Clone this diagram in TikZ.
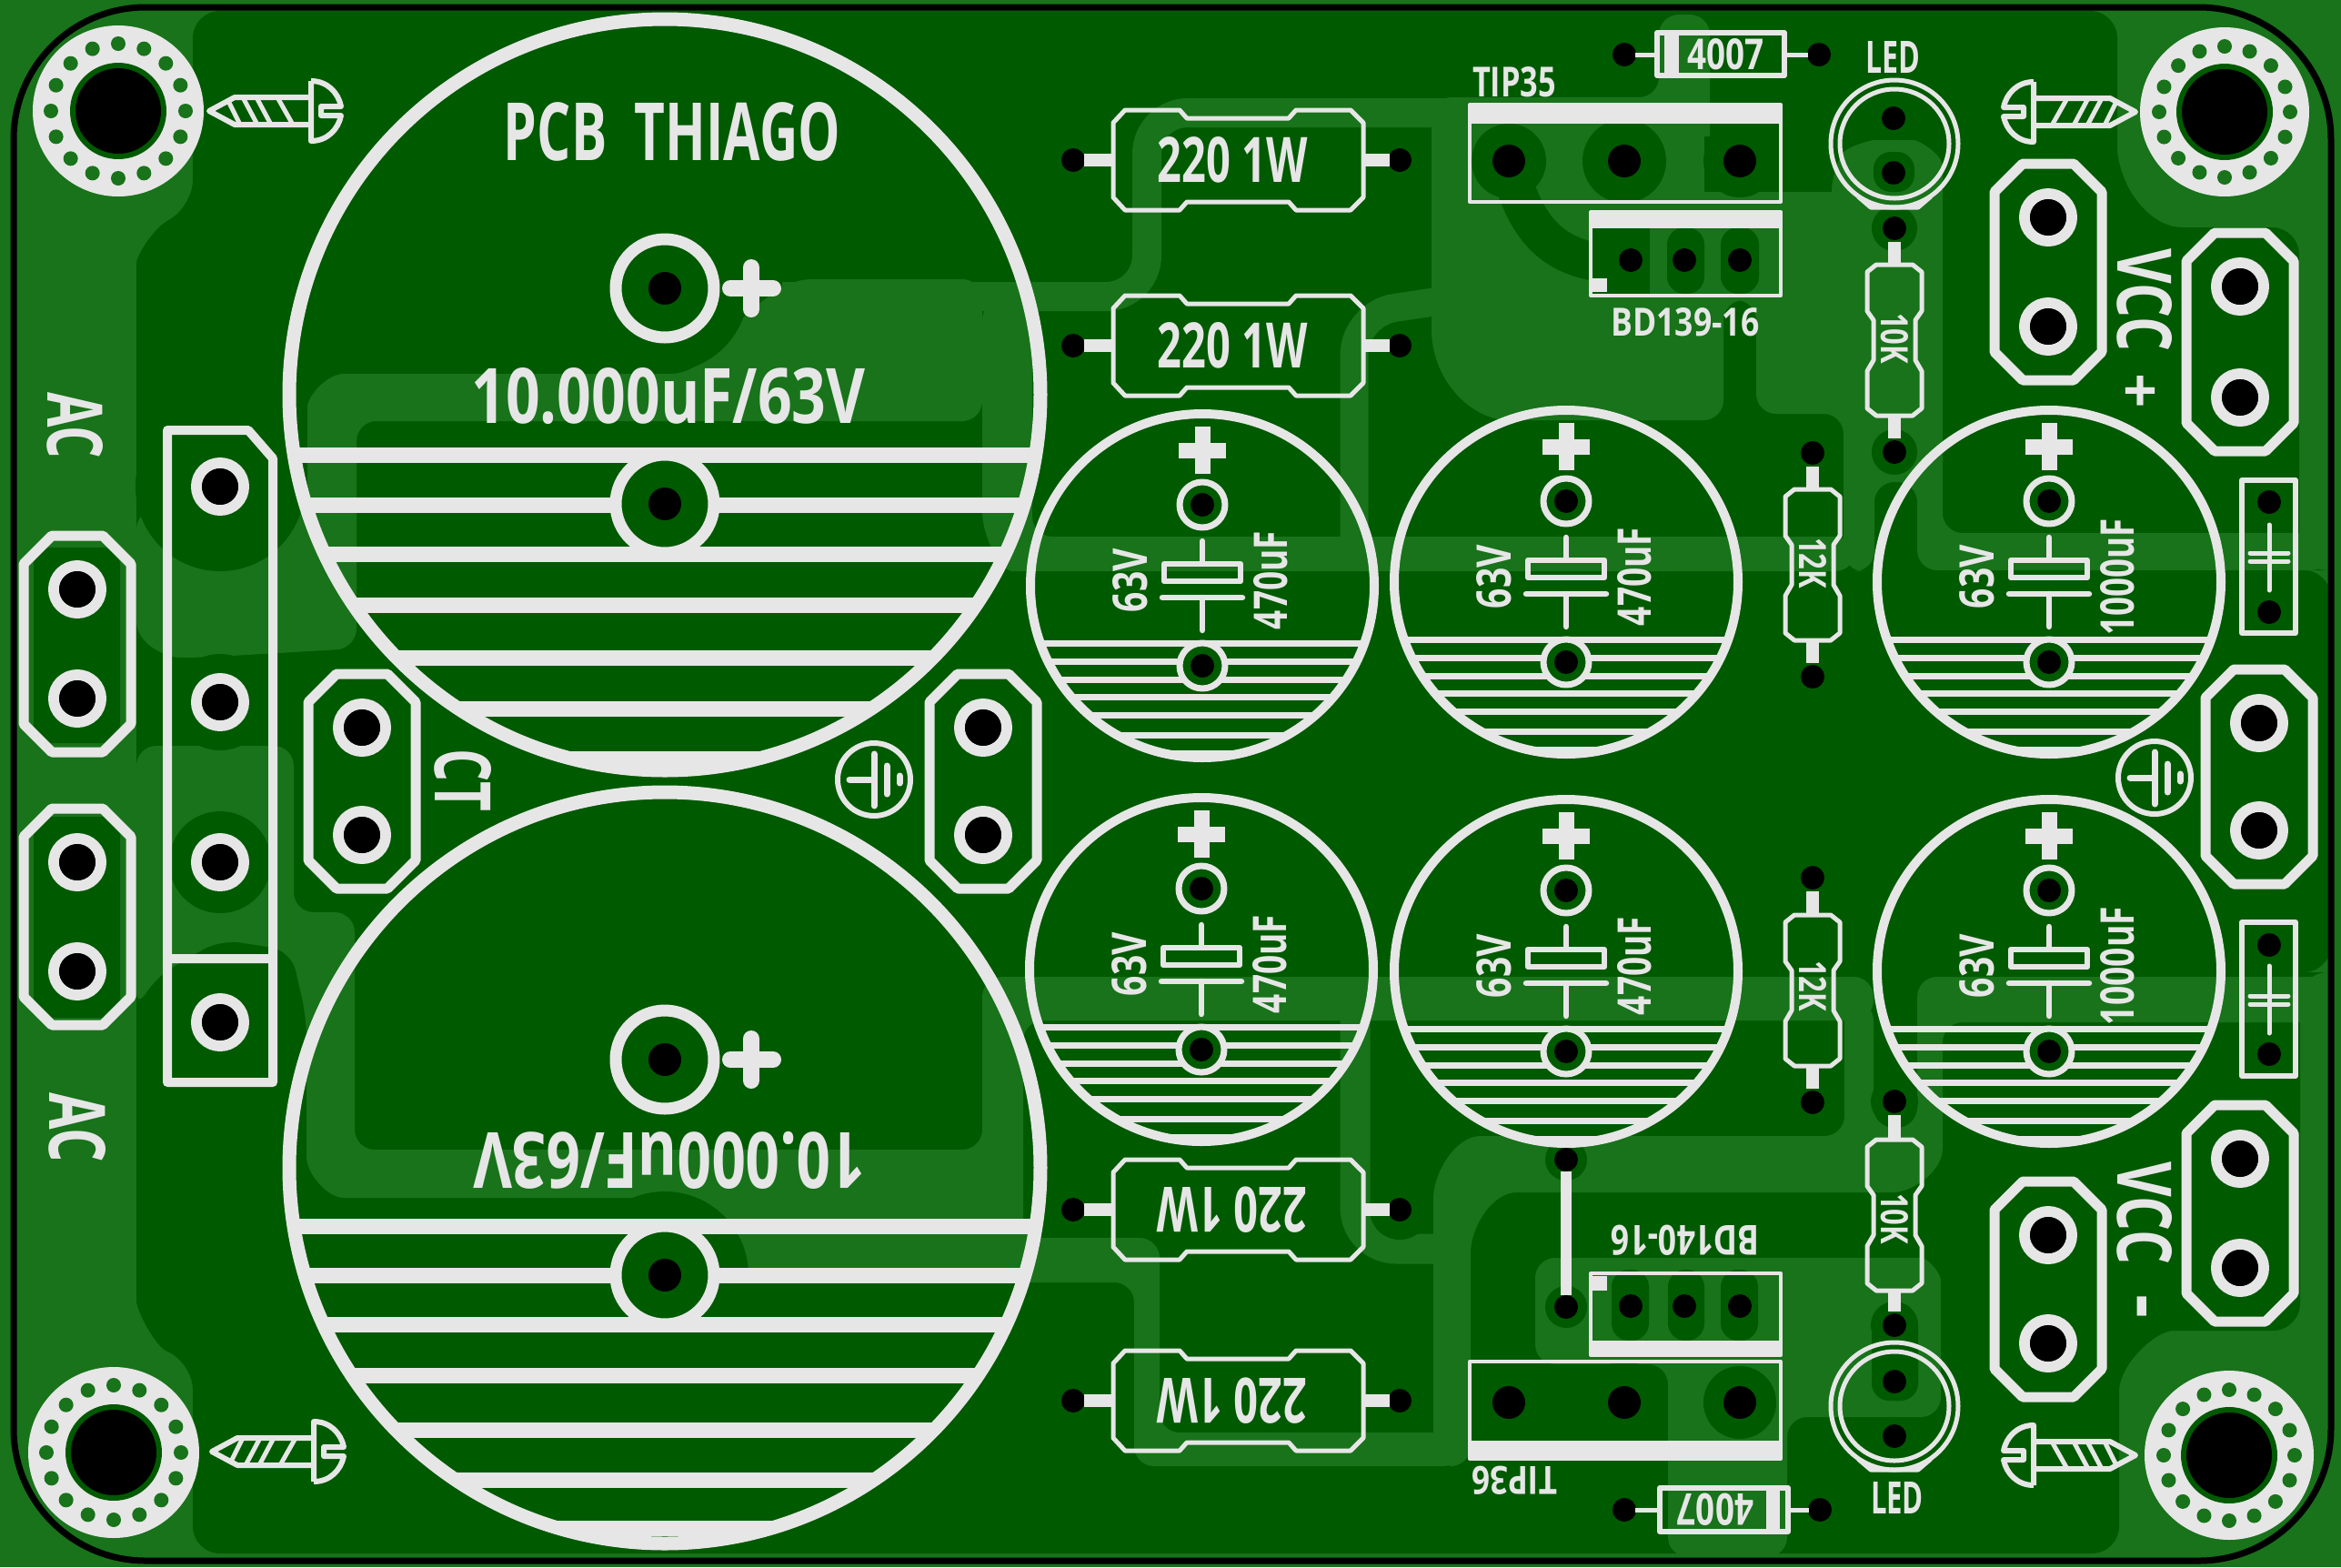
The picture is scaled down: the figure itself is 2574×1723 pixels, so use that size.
\documentclass[tikz,border=0pt]{standalone}
\usepackage{fontspec}
\setmainfont{Open Sans}
\definecolor{lite}{HTML}{18731A}
\definecolor{pour}{HTML}{005A00}
\definecolor{silk}{HTML}{E6E6E6}
\newdimen\pxu \pxu=0.01cm
\tikzset{
  lw/.style={line width=#1*0.01cm},
  sl/.style={draw=silk,lw=#1,line join=round},
  lightfill/.style={fill=lite,rounded corners=0.22cm},
  silktext/.style={inner sep=0pt,outer sep=0pt,text=silk,font=\bfseries},
}
\newcommand{\silk}[7]{\node[silktext,rotate=#4] (#1) at (#2,#3) {\resizebox{#5\pxu}{#6\pxu}{#7}};}
\newcommand{\ringpad}[2]{%
  \fill[pour] (#1,#2) circle (24);
  \draw[sl=12] (#1,#2) circle (26);
  \fill[black] (#1,#2) circle (20);}
\newcommand{\octa}[3]{%
  \draw[sl=11] (#1-28,#2-59) -- (#1+28,#2-59) -- (#1+59,#2-28) -- (#1+59,#3+28) -- (#1+28,#3+59) -- (#1-28,#3+59) -- (#1-59,#3+28) -- (#1-59,#2-28) -- cycle;
  \ringpad{#1}{#2}\ringpad{#1}{#3}}
\newcommand{\hole}[3]{\fill[black] (#1,#2) circle (#3);}
\newcommand{\halo}[3]{\fill[pour] (#1,#2) circle (#3);}
\newcommand{\ovalhalo}[4]{\fill[pour,rounded corners=0.19cm] (#1,#2) rectangle (#3,#4);}
\newcommand{\mount}[5]{%
  \begin{scope}[shift={(#1,#2)}]
    \fill[silk] (0,0) circle (#3);
    \foreach \a in {0,22.5,...,337.5} \fill[lite] (\a:#4) circle (8);
    \fill[pour] (0,0) circle (53);
    \fill[black] (0,0) circle (47);
  \end{scope}}
\newcommand{\screw}[4]{%
  \begin{scope}[shift={(#1,#2)},xscale=#3,yscale=#4]
    \draw[sl=6] (114,-15) -- (30,-15) -- (2,0) -- (30,15) -- (114,15);
    \draw[sl=6] (114,-33) -- (114,33) .. controls (132,33) and (144,20) .. (147,5) -- (125,5) -- (125,-5) -- (147,-5) .. controls (144,-20) and (132,-33) .. (114,-33);
    \draw[sl=5] (24,-9) -- (35,13) (39,-15) -- (55,15) (54,-15) -- (70,15) (77,-15) -- (94,15);
  \end{scope}}
\newcommand{\hugecap}[5]{% name, cy, pad1, pad2, stripes
  \begin{scope}
    \clip (731,#2) circle (414);
    \foreach \s in {#5} \draw[sl=17] (250,\s) -- (1200,\s);
  \end{scope}
  \draw[sl=15] (731,#2) circle (413);
  \foreach \p in {#3,#4} {
    \fill[pour] (731,\p) circle (50);
    \draw[sl=13] (731,\p) circle (54);
    \fill[black] (731,\p) circle (18);}
  \draw[draw=silk,lw=18,line cap=round] (803,#3) -- (850,#3) (826,#3-23) -- (826,#3+23);
}
\newcommand{\smallcap}[5]{% name, cx, cy, value, textlength
  \begin{scope}[shift={(#2,#3)}]
    \begin{scope}
      \clip (0,0) circle (190);
      \foreach \s in {63,83,103,122,142,164,184} \draw[sl=7] (-200,\s) -- (200,\s);
    \end{scope}
    \draw[sl=10] (0,0) circle (189);
    \draw[draw=silk,lw=17] (-26,-149) -- (26,-149) (0,-175) -- (0,-123);
    \foreach \p in {-89,88} {
      \fill[pour] (0,\p) circle (24);
      \draw[sl=7] (0,\p) circle (25);
      \fill[black] (0,\p) circle (13);}
    \draw[sl=6.5,line cap=round] (0,-49) -- (0,-26) (-44,13) -- (44,13) (0,13) -- (0,49);
    \draw[sl=6.5] (-42,-24) rectangle (42,-5);
    \silk{#1v}{-79}{-6}{90}{70}{38}{63V}
    \silk{#1u}{75}{-6}{90}{#5}{37}{#4}
  \end{scope}}
\newcommand{\rwatt}[6]{% name cx cy rot textx text
  \begin{scope}[shift={(#2,#3)}]
    \fill[black] (-181,0) circle (13) (178,0) circle (13);
    \draw[draw=silk,lw=14] (-169,0) -- (-137,0) (138,0) -- (167,0);
    \draw[sl=5] (-137,-41) -- (-124,-55) -- (-64,-55) -- (-56,-46) -- (56,-46) -- (64,-55) -- (124,-55) -- (138,-41) -- (138,41) -- (124,55) -- (64,55) -- (56,46) -- (-56,46) -- (-64,55) -- (-124,55) -- (-137,41) -- cycle;
    \silk{#1}{#5}{0}{#4}{165}{50}{#6}
  \end{scope}}
\newcommand{\vres}[7]{% name cx holeTop cy holeBottom text textcy
  \fill[black] (#2,#3) circle (13) (#2,#5) circle (13);
  \begin{scope}[shift={(#2,#4)}]
    \draw[sl=5] (-20,-83) -- (20,-83) -- (30,-75) -- (30,-32) -- (23,-22) -- (23,22) -- (30,34) -- (30,75) -- (20,83) -- (-20,83) -- (-30,75) -- (-30,34) -- (-23,22) -- (-23,-22) -- (-30,-32) -- (-30,-75) -- cycle;
  \end{scope}
  \draw[draw=silk,lw=14] (#2,#4-83) -- (#2,#3+15) (#2,#4+83) -- (#2,#5-15);
  \silk{#1}{#2}{#7}{-90}{56}{30}{#6}}
\newcommand{\ledsym}[2]{% cx cy
  \draw[sl=5] (#1,#2) circle (70) (#1,#2) circle (60);
  \draw[sl=5] (#1-40,#2+58) -- (#1-26,#2+70) -- (#1+26,#2+70) -- (#1+40,#2+58);}
\newcommand{\filmcap}[8]{% top bottom hole1 hole2 line1 line2 plate1 plate2
  \draw[sl=6] (2465,#1) rectangle (2524,#2);
  \fill[black] (2495,#3) circle (13) (2495,#4) circle (13);
  \draw[sl=5,line cap=round] (2495,#5) -- (2495,#6) (2474,#7) -- (2516,#7) (2474,#8) -- (2516,#8);}
\newcommand{\gndsym}[2]{%
  \begin{scope}[shift={(#1,#2)}]
    \draw[sl=6] (0,0) circle (40);
    \draw[sl=7,line cap=round] (-27,0) -- (0,0) (0,-28) -- (0,29) (14,-15) -- (14,16);
    \draw[sl=7,line cap=round] (28,-4) -- (28,4);
  \end{scope}}
\begin{document}
\begin{tikzpicture}[x=0.01cm,y=-0.01cm]
\useasboundingbox (0,0) rectangle (2574,1723);
% ---- board and copper pour
\fill[lite] (0,0) rectangle (2574,1723);
\fill[pour,rounded corners=0.3cm] (212,12) -- (2328,12) -- (2328,130) .. controls (2328,200) and (2360,250) .. (2430,250) -- (2528,250) -- (2528,627) -- (2563,627) -- (2563,1069) -- (2529,1069) -- (2529,1463) -- (2420,1463) .. controls (2370,1463) and (2330,1500) .. (2330,1560) -- (2330,1708) -- (212,1708) -- (212,1498) .. controls (170,1480) and (150,1440) .. (150,1400) -- (150,320) .. controls (150,280) and (170,250) .. (212,228) -- cycle;
% ---- lighter traces
\fill[lightfill] (338,560) -- (338,470) .. controls (338,435) and (360,411) .. (400,411) -- (760,411) -- (820,345) -- (870,307) -- (1080,307) -- (1080,463) -- (392,463) -- (392,713) -- (220,723) .. controls (185,723) and (150,710) .. (150,660) -- (150,560) -- cycle;
\draw[lite,lw=32,rounded corners=0.45cm] (860,326) -- (1261,326) -- (1261,124) -- (1600,124);
\fill[lightfill] (1080,330) -- (1135,330) -- (1135,590) -- (2040,590) -- (2040,628) -- (1135,628) .. controls (1100,628) and (1080,590) .. (1080,540) -- cycle;
\draw[lite,lw=31,rounded corners=0.45cm] (1489,610) -- (1489,345) -- (1590,330);
\fill[lightfill] (1574,107) -- (1824,107) -- (1824,16) -- (1880,16) -- (1880,211) -- (2014,211) -- (2014,190) .. controls (2030,160) and (2060,154) .. (2082,154) .. controls (2110,154) and (2136,170) .. (2136,205) -- (2136,586) -- (2563,586) -- (2563,627) -- (2108,627) -- (2108,530) -- (2061,530) -- (2061,628) -- (2027,628) -- (2027,455) -- (1931,455) -- (1931,330) -- (1895,330) -- (1895,462) -- (1680,462) .. controls (1620,462) and (1574,420) .. (1574,340) -- cycle;
\fill[lightfill] (150,820) -- (323,820) -- (323,1003) -- (390,1003) -- (390,1264) -- (1080,1264) -- (1080,1074) -- (2060,1074) -- (2060,1122) -- (1125,1122) -- (1125,1361) -- (1200,1361) -- (1275,1361) -- (1275,1575) -- (1609,1575) -- (1609,1612) -- (1247,1612) -- (1247,1410) -- (821,1410) -- (760,1317) -- (400,1317) .. controls (360,1317) and (337,1290) .. (337,1250) -- (337,1119) -- (320,1045) -- (242,1033) -- (170,1075) -- (150,1110) -- cycle;
\draw[lite,lw=33,rounded corners=0.45cm] (1490,1090) -- (1490,1373) -- (1590,1373);
\fill[lightfill] (1576,1612) -- (1576,1340) .. controls (1576,1290) and (1600,1249) .. (1650,1249) -- (2028,1249) -- (2028,1100) -- (2060,1100) -- (2060,1240) -- (2108,1240) -- (2108,1074) -- (2563,1074) -- (2563,1124) -- (2136,1124) -- (2136,1240) .. controls (2136,1290) and (2100,1311) .. (2060,1311) -- (1690,1311) .. controls (1640,1311) and (1617,1350) .. (1617,1400) -- (1617,1612) -- cycle;
\fill[lightfill] (1688,1500) -- (1688,1383) -- (2090,1383) .. controls (2120,1383) and (2134,1400) .. (2134,1430) -- (2134,1558) -- (1965,1558) -- (1965,1712) -- (1834,1712) -- (1834,1500) -- cycle;
% ---- clearance round the pads
\halo{242}{535}{93}
\halo{242}{772}{53}
\halo{242}{948}{56}
\ovalhalo{37}{602}{132}{817}
\ovalhalo{37}{898}{132}{1119}
\halo{731}{317}{92}
\halo{731}{1402}{92}
\halo{1659}{177}{41}
\halo{1786}{177}{46}
\halo{1913}{177}{40}
\fill[pour] (1874,150) rectangle (2014,211);
\draw[pour,lw=42] (1666,205) .. controls (1685,260) and (1715,285) .. (1770,290);
\fill[pour] (1747,251) rectangle (1814,325);
\ovalhalo{1833}{250}{1874}{323}
\ovalhalo{1892}{250}{1934}{323}
\ovalhalo{2060}{167}{2105}{211}
\halo{2083}{251}{25}
\halo{2083}{497}{25}
\halo{2083}{1211}{26}
\halo{2083}{1457}{26}
\ovalhalo{2058}{1438}{2109}{1540}
\halo{1722}{1275}{23}
\halo{1722}{1437}{23}
\halo{1539}{1330}{33}
\ovalhalo{1772}{1396}{1813}{1474}
\ovalhalo{1834}{1396}{1874}{1474}
\ovalhalo{1892}{1396}{1933}{1474}
\halo{1659}{1542}{40}
\halo{1786}{1542}{45}
\halo{1913}{1542}{40}
% ---- board outline
\draw[black,lw=7,rounded corners=1.45cm] (15,8) rectangle (2563,1716);
% ---- mounting holes and screws
\mount{130}{122}{94}{74}{}
\mount{2446}{123}{93}{72}{}
\mount{125}{1597}{94}{74}{}
\mount{2451}{1600}{93}{72}{}
\screw{228}{122}{1}{1}
\screw{2350}{123}{-1}{1}
\screw{231}{1596}{1}{-1}
\screw{2350}{1600}{-1}{-1}
% ---- large capacitors
\hugecap{capA}{434}{317}{554}{500,555,609,665,723,779,834}
\hugecap{capB}{1284}{1165}{1402}{1348,1402,1456,1512,1572,1627,1680}
\silk{pcbname}{739}{145}{0}{370}{64}{PCB\ \ THIAGO}
\silk{capAv}{735}{436}{0}{433}{61}{10.000uF/63V}
\silk{capBv}{736}{1276}{180}{431}{62}{10.000uF/63V}
% ---- connectors
\octa{85}{648}{768}
\octa{85}{948}{1068}
\octa{398}{800}{918}
\octa{1081}{800}{918}
\octa{2252}{239}{359}
\octa{2463}{315}{437}
\octa{2484}{795}{913}
\octa{2463}{1274}{1394}
\octa{2252}{1358}{1477}
\draw[sl=10] (184,473) -- (273,473) -- (300,504) -- (300,1190) -- (184,1190) -- cycle (184,1054) -- (300,1054);
\ringpad{242}{535}\ringpad{242}{772}\ringpad{242}{948}\ringpad{242}{1124}
\silk{acA}{83}{468}{-90}{73}{61}{AC}
\silk{acB}{85}{1240}{-90}{77}{62}{AC}
\silk{ct}{509}{858}{-90}{69}{62}{CT}
\gndsym{961}{857}
\gndsym{2369}{855}
% ---- small capacitors
\smallcap{c1}{1322}{644}{470uF}{108}
\smallcap{c2}{1722}{640}{470uF}{108}
\smallcap{c3}{2253}{640}{1000uF}{128}
\smallcap{c4}{1321}{1066}{470uF}{108}
\smallcap{c5}{1722}{1068}{470uF}{108}
\smallcap{c6}{2253}{1068}{1000uF}{130}
% ---- power resistors
\rwatt{ra}{1361}{176}{0}{-6}{220 1W}
\rwatt{rb}{1361}{380}{0}{-6}{220 1W}
\rwatt{rc}{1361}{1330}{180}{-6}{220 1W}
\rwatt{rd}{1361}{1540}{180}{-6}{220 1W}
% ---- transistors
\fill[silk] (1614,115) rectangle (1960,136);
\draw[sl=4] (1616,115) rectangle (1958,222);
\hole{1659}{177}{18}\hole{1786}{177}{18}\hole{1913}{177}{18}
\silk{tipA}{1665}{90}{0}{92}{33}{TIP35}
\fill[silk] (1747,233) rectangle (1960,251);
\draw[sl=4] (1749,233) rectangle (1958,325);
\fill[silk] (1751,306) rectangle (1767,321);
\hole{1793}{286}{13}\hole{1852}{286}{13}\hole{1913}{286}{13}
\silk{bdA}{1853}{354}{0}{163}{31}{BD139-16}
\fill[silk] (1614,1584) rectangle (1960,1604);
\draw[sl=4] (1616,1497) rectangle (1958,1604);
\hole{1659}{1542}{18}\hole{1786}{1542}{18}\hole{1913}{1542}{18}
\silk{tipB}{1665}{1628}{180}{94}{31}{TIP36}
\fill[silk] (1747,1474) rectangle (1960,1490);
\draw[sl=4] (1749,1400) rectangle (1958,1490);
\fill[silk] (1751,1403) rectangle (1767,1419);
\hole{1793}{1436}{13}\hole{1852}{1436}{13}\hole{1913}{1436}{13}
\silk{bdB}{1853}{1364}{180}{163}{33}{BD140-16}
% ---- jumper
\hole{1722}{1275}{13}\hole{1722}{1437}{13}
\draw[draw=silk,lw=12] (1722,1288) -- (1722,1424);
% ---- diodes
\hole{1786}{60}{13}\hole{2000}{60}{13}
\draw[sl=5] (1798,60) -- (1821,60) (1965,60) -- (1988,60);
\draw[sl=6] (1822,36) rectangle (1962,83);
\fill[silk] (1830,36) rectangle (1846,83);
\silk{dioA}{1897}{60}{0}{84}{34}{4007}
\hole{1786}{1660}{13}\hole{2001}{1660}{13}
\draw[sl=5] (1798,1660) -- (1824,1660) (1967,1660) -- (1989,1660);
\draw[sl=6] (1825,1636) rectangle (1966,1684);
\fill[silk] (1942,1636) rectangle (1957,1684);
\silk{dioB}{1886}{1660}{180}{84}{35}{4007}
% ---- LEDs
\ledsym{2083}{158}
\hole{2082}{130}{13}\hole{2082}{190}{13}
\silk{ledA}{2081}{63}{0}{60}{35}{LED}
\ledsym{2083}{1546}
\hole{2083}{1519}{13}\hole{2083}{1579}{13}
\silk{ledB}{2086}{1647}{0}{58}{35}{LED}
% ---- signal resistors
\vres{tenA}{2083}{251}{374}{497}{10K}{372}
\vres{tenB}{2083}{1211}{1336}{1457}{10K}{1340}
\vres{twelveA}{1993}{498}{621}{744}{12K}{619}
\vres{twelveB}{1993}{965}{1089}{1212}{12K}{1084}
% ---- film capacitors
\filmcap{528}{696}{552}{673}{577}{649}{608}{617}
\filmcap{1014}{1183}{1039}{1159}{1062}{1136}{1095}{1104}
% ---- supply labels
\silk{vccA}{2358}{330}{-90}{113}{60}{VCC}
\silk{plusA}{2353}{433}{0}{38}{40}{+}
\silk{vccB}{2358}{1334}{-90}{113}{60}{VCC}
\silk{minusB}{2346}{1436}{-90}{26}{28}{-}
\end{tikzpicture}
\end{document}
